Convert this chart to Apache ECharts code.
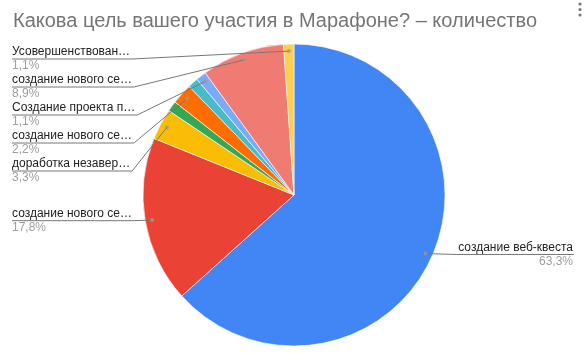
<!DOCTYPE html>
<html>
<head>
<meta charset="utf-8">
<script src="https://cdn.jsdelivr.net/npm/echarts@6/dist/echarts.min.js"></script>
<style>
  html, body { margin: 0; padding: 0; background: #fff; }
  #chart { width: 585px; height: 353px; }
</style>
</head>
<body>
<div id="chart"></div>
<script>
  // ответы на вопрос (90 человек)
  const names = [
    'создание веб-квеста',
    'создание нового се…',
    'доработка незавер…',
    'прочее 1',
    'создание нового се…',
    'прочее 2',
    'Создание проекта п…',
    'создание нового се…',
    'Усовершенствован…'
  ];
  const counts = [57, 16, 3, 1, 2, 1, 1, 8, 1];
  const colors = ['#4285f4', '#ea4335', '#fbbc04', '#34a853', '#ff6d01', '#46bdc6', '#7baaf7', '#f07b72', '#fcd04f'];
  const withLabel = [true, true, true, false, true, false, true, true, true];

  const CX = 294, CY = 195, R = 151;
  const TOP = 45;
  const FONT = '"Liberation Sans", Arial, sans-serif';

  const chart = echarts.init(document.getElementById('chart'));

  const total = counts.reduce((a, b) => a + b, 0);

  // точки-указатели в середине подписанных секторов (через полярную систему)
  const pointerData = [];
  let acc = 0;
  counts.forEach((c, i) => {
    if (withLabel[i]) pointerData.push([R - 7, acc + c / 2]);
    acc += c;
  });

  const pieBase = {
    type: 'pie',
    left: 0,
    right: 0,
    top: TOP,
    bottom: 0,
    center: [CX, CY - TOP],
    radius: R,
    startAngle: 90,
    clockwise: true
  };

  // нижний слой: сами секторы без подписей
  const sectors = Object.assign({}, pieBase, {
    z: 1,
    label: { show: false },
    labelLine: { show: false },
    itemStyle: { borderColor: '#fff', borderWidth: 0.6 },
    data: names.map((name, i) => ({ name: name, value: counts[i], itemStyle: { color: colors[i] } }))
  });

  // верхний слой: прозрачные секторы, только подписи и линии
  const labels = Object.assign({}, pieBase, {
    z: 3,
    silent: true,
    avoidLabelOverlap: true,
    itemStyle: { color: 'rgba(0,0,0,0)', borderWidth: 0 },
    label: {
      alignTo: 'edge',
      edgeDistance: 12,
      minMargin: 2,
      overflow: 'none',
      formatter: function (p) {
        return '{n|' + p.name + '}\n{p|' + p.percent.toFixed(1).replace('.', ',') + '%}';
      },
      rich: {
        n: { fontFamily: FONT, fontSize: 12, color: '#222', lineHeight: 15 },
        p: { fontFamily: FONT, fontSize: 12, color: '#9e9e9e', lineHeight: 13 }
      }
    },
    labelLine: {
      length: -6,
      length2: 10,
      lineStyle: { color: '#777', width: 1 }
    },
    labelLayout: function (params) {
      const pts = params.labelLinePoints;
      if (!pts) return {};
      const rect = params.labelRect;
      const isLeft = rect.x < chart.getWidth() / 2;
      // начало линии немного внутри сектора
      const dx = pts[0][0] - CX, dy = pts[0][1] - CY;
      const d = Math.sqrt(dx * dx + dy * dy);
      pts[0] = [CX + dx * (R - 7) / d, CY + dy * (R - 7) / d];
      const ly = rect.y + rect.height / 2;
      if (isLeft) {
        pts[1] = [rect.x + rect.width + 2, ly];
        pts[2] = [rect.x, ly];
      } else {
        pts[1] = [rect.x - 2, ly];
        pts[2] = [rect.x + rect.width + 1, ly];
      }
      return { labelLinePoints: pts };
    },
    data: names.map((name, i) => ({
      name: name,
      value: counts[i],
      label: { show: withLabel[i] },
      labelLine: { show: withLabel[i] }
    }))
  });

  const option = {
    animation: false,
    title: {
      text: 'Какова цель вашего участия в Марафоне? – количество',
      left: 8,
      top: 6,
      textStyle: { fontFamily: FONT, fontSize: 20, fontWeight: 'normal', color: '#757575' }
    },
    graphic: [
      { type: 'circle', shape: { cx: 580, cy: 4, r: 1.6 }, style: { fill: '#777' } },
      { type: 'circle', shape: { cx: 580, cy: 9.5, r: 1.6 }, style: { fill: '#777' } },
      { type: 'circle', shape: { cx: 580, cy: 15, r: 1.6 }, style: { fill: '#777' } }
    ],
    polar: { center: [CX, CY], radius: R },
    angleAxis: {
      type: 'value', min: 0, max: total, startAngle: 90, clockwise: true,
      show: false, axisLine: { show: false }, splitLine: { show: false }
    },
    radiusAxis: {
      type: 'value', min: 0, max: R,
      show: false, axisLine: { show: false }, splitLine: { show: false }
    },
    series: [sectors, labels, {
      type: 'scatter',
      coordinateSystem: 'polar',
      z: 4,
      silent: true,
      symbolSize: 4,
      itemStyle: { color: '#999' },
      data: pointerData
    }]
  };

  chart.setOption(option);
</script>
</body>
</html>
